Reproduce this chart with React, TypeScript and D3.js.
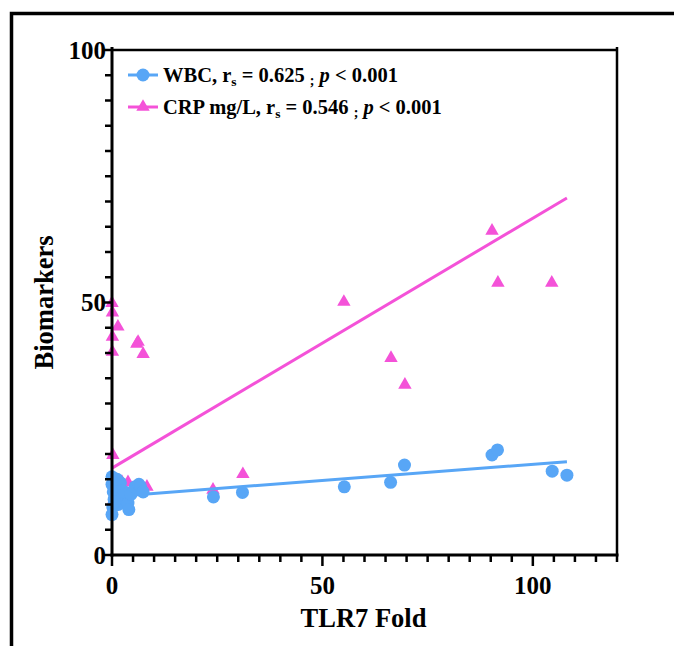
import React from "react";
import * as d3 from "d3";

// ---- data ----
const wbcX = [0, 0, 0.3, 0.5, 0.2, 0, 1, 1.5, 2.5, 3, 3.8, 4, 4.5, 5.5, 6.4, 6.8, 7.4, 2, 1.2, 0.6,
  24.1, 31.0, 55.2, 66.2, 69.5, 90.3, 91.6, 104.6, 108.1];
const wbcY = [15.5, 14, 12.5, 11, 9.5, 8, 13, 10, 11.5, 12.5, 10.3, 9, 12, 13.5, 14, 13.5, 12.5, 14.3, 15, 10.5,
  11.5, 12.4, 13.5, 14.4, 17.8, 19.8, 20.8, 16.6, 15.8];

const crpX = [0, 0.1, 1.4, 0.1, 0.1, 6.2, 7.4, 5.9, 0.2, 2.4, 3.8, 8.3, 0.5, 1.5,
  24.0, 31.1, 55.1, 66.3, 69.6, 90.3, 91.7, 104.5];
const crpY = [49.9, 48, 45.2, 43.2, 40.2, 42.2, 39.8, 41.8, 19.8, 14.4, 14.4, 13.5, 11, 12,
  12.9, 16, 50.1, 39, 33.7, 64.2, 53.9, 53.9];

// regression lines: [intercept, slope], drawn over the data range
const wbcFit = [11.55, 0.064];
const crpFit = [17.2, 0.495];

const xMajor = [0, 50, 100];
const yMajor = [0, 50, 100];

const BLUE = "#58A6F6";
const PINK = "#F452D8";

export default function App() {
  const W = 674, H = 646;
  const x0 = 112, x1 = 617, y0 = 555, y1 = 50;
  const x = d3.scaleLinear().domain([0, 120]).range([x0, x1]);
  const y = d3.scaleLinear().domain([0, 100]).range([y0, y1]);

  const xMinor = d3.range(0, 121, 5);
  const yMinor = d3.range(0, 101, 5);

  const wbc = wbcX.map((v, i) => [v, wbcY[i]]);
  const crp = crpX.map((v, i) => [v, crpY[i]]);
  const maxX = d3.max(wbcX.concat(crpX)) as number;

  const line = d3.line<number[]>().x(d => x(d[0])).y(d => y(d[1]));
  const fitPts = (f: number[]) => [[0, f[0]], [maxX, f[0] + f[1] * maxX]];

  const tri = d3.symbol().type(d3.symbolTriangle).size(78)() as string;
  const font = "'Liberation Serif', 'Times New Roman', serif";

  const legendItems = [
    { name: "WBC, r", rs: "0.625", color: BLUE, shape: "circle" },
    { name: "CRP mg/L, r", rs: "0.546", color: PINK, shape: "triangle" },
  ];

  return (
    <svg width={W} height={H} style={{ position: "absolute", left: 0, top: 0, background: "#fff" }}
      fontFamily={font} fontWeight="bold">
      {/* outer frame */}
      <path d={`M11.5,${H + 5} V13.5 H${W + 5}`} fill="none" stroke="#000" strokeWidth={3.5} />

      {/* CRP */}
      <path d={line(fitPts(crpFit)) as string} stroke={PINK} strokeWidth={3} fill="none" />
      {crp.map((d, i) => (
        <path key={"c" + i} d={tri} transform={`translate(${x(d[0])},${y(d[1])})`} fill={PINK} />
      ))}
      {/* WBC */}
      <path d={line(fitPts(wbcFit)) as string} stroke={BLUE} strokeWidth={3} fill="none" />
      {wbc.map((d, i) => (
        <circle key={"w" + i} cx={x(d[0])} cy={y(d[1])} r={6.5} fill={BLUE} />
      ))}

      {/* axes frame */}
      <g stroke="#000" strokeWidth={3} fill="none">
        <line x1={x0} x2={x0} y1={y1 - 3} y2={y0 + 1.5} />
        <line x1={x0 - 1.5} x2={x1 + 1.5} y1={y0} y2={y0} />
        <line x1={x0} x2={x1} y1={y1} y2={y1} strokeWidth={2.5} />
        <line x1={x1} x2={x1} y1={y1 - 3} y2={y0} strokeWidth={2.5} />
      </g>
      {/* ticks */}
      <g stroke="#000" strokeWidth={2.5}>
        {yMinor.map(v => (
          <line key={"yt" + v} x1={x0 - (yMajor.includes(v) ? 8 : 7)} x2={x0} y1={y(v)} y2={y(v)} />
        ))}
        {xMinor.map(v => (
          <line key={"xt" + v} x1={x(v)} x2={x(v)} y1={y0} y2={y0 + (xMajor.includes(v) ? 11 : 7)} />
        ))}
      </g>
      {yMajor.map(v => (
        <text key={"yl" + v} x={x0 - 6} y={y(v)} dy="0.35em" textAnchor="end" fontSize={25}>{v}</text>
      ))}
      {xMajor.map(v => (
        <text key={"xl" + v} x={x(v)} y={y0 + 39} textAnchor="middle" fontSize={25}>{v}</text>
      ))}

      <text x={(x0 + x1) / 2 - 1} y={627} textAnchor="middle" fontSize={26.5}>TLR7 Fold</text>
      <text transform={`translate(53,${(y0 + y1) / 2}) rotate(-90)`} textAnchor="middle" fontSize={26.5}>Biomarkers</text>

      {/* legend */}
      {legendItems.map((it, i) => {
        const cy = 75 + i * 32;
        return (
          <g key={"lg" + i}>
            <line x1={128} x2={158} y1={cy} y2={cy} stroke={it.color} strokeWidth={3} />
            {it.shape === "circle"
              ? <circle cx={143} cy={cy} r={6.5} fill={it.color} />
              : <path d={tri} transform={`translate(143,${cy})`} fill={it.color} />}
            <text x={163} y={cy + 7} fontSize={20.5}>
              {it.name}
              <tspan fontSize={13.5} dy={4}>s</tspan>
              <tspan dy={-4}>{" = " + it.rs + " "}</tspan>
              <tspan fontSize={14} dy={3}>;</tspan>
              <tspan dy={-3}> </tspan>
              <tspan fontStyle="italic">p</tspan>
              <tspan>{" < 0.001"}</tspan>
            </text>
          </g>
        );
      })}
    </svg>
  );
}
